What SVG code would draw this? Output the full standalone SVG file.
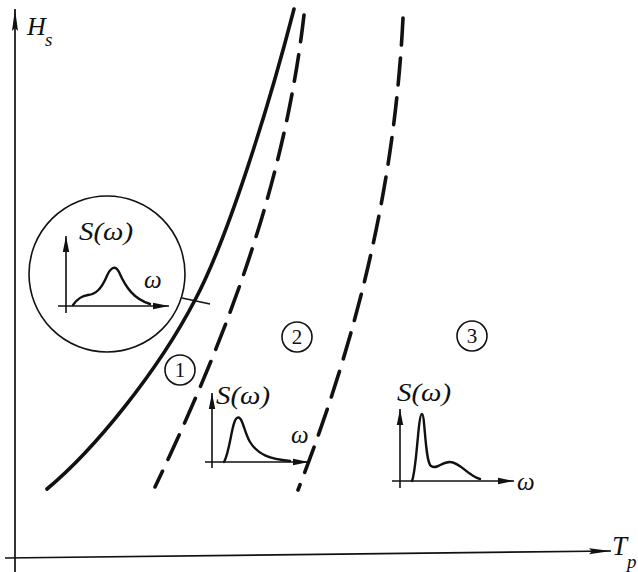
<svg xmlns="http://www.w3.org/2000/svg" width="638" height="572" viewBox="0 0 638 572">
<style>
.ax{stroke:#111;stroke-width:1.7;fill:none}
.cv{stroke:#111;stroke-width:3.6;fill:none;stroke-linecap:round}
.ds{stroke:#111;stroke-width:3.6;fill:none;stroke-dasharray:27 13;stroke-linecap:round}
.sp{stroke:#111;stroke-width:2.4;fill:none;stroke-linecap:round}
.th{stroke:#111;stroke-width:1.6;fill:none}
.t{font-family:"Liberation Serif",serif;font-style:italic;fill:#111}
.n{font-family:"Liberation Serif",serif;fill:#111;font-size:21px;text-anchor:middle}
</style>
<defs>
<marker id="ah" viewBox="0 0 22 8" refX="22" refY="4" markerWidth="22" markerHeight="8" markerUnits="userSpaceOnUse" orient="auto"><path d="M0,1 L22,4 L0,7 L3,4 Z" fill="#111"/></marker>
<marker id="as" viewBox="0 0 16 8" refX="16" refY="4" markerWidth="16" markerHeight="8" markerUnits="userSpaceOnUse" orient="auto"><path d="M0,0.8 L16,4 L0,7.2 Z" fill="#111"/></marker>
</defs>
<g id="axes">
<line class="ax" x1="15" y1="572" x2="15" y2="9" marker-end="url(#ah)"/>
<line class="ax" x1="5" y1="558" x2="611" y2="551" marker-end="url(#ah)"/>
<text class="t" x="27" y="35" font-size="26">H</text>
<text class="t" x="45" y="46" font-size="19">s</text>
<text class="t" x="612" y="555" font-size="27">T</text>
<text class="t" x="627" y="568" font-size="19">p</text>
</g>
<g id="connectors">
<path class="cv" d="M47,489 C95,449 158,371 195,300 C228,238 269,106 294,9"/>
<path class="ds" d="M304,15 C285,180 230,330 155,487"/>
<path class="ds" d="M403,18 C395,180 360,330 298,490"/>
<line class="th" x1="182" y1="298" x2="210" y2="304"/>
</g>
<g id="zoom-circle">
<circle cx="107" cy="274" r="78" class="th"/>
<line class="th" x1="66" y1="313" x2="66" y2="236" marker-end="url(#as)"/>
<line class="th" x1="58" y1="306" x2="169" y2="306" marker-end="url(#as)"/>
<path class="sp" d="M73,305 C78,298 82,296 88,295 C96,294 101,289 106,278 C110,268 115,264 119,272 C126,288 134,299 150,304"/>
<text class="t" x="79" y="240" font-size="25" textLength="54" lengthAdjust="spacingAndGlyphs">S(ω)</text>
<text class="t" x="144" y="288" font-size="25">ω</text>
</g>
<g id="region1"><circle cx="180" cy="370" r="15" class="th"/><text class="n" x="180" y="377">1</text></g>
<g id="region2"><circle cx="297" cy="337" r="15" class="th"/><text class="n" x="297" y="344">2</text></g>
<g id="region3"><circle cx="472" cy="336" r="15" class="th"/><text class="n" x="472" y="343">3</text></g>
<g id="spectrum2">
<line class="th" x1="212" y1="468" x2="212" y2="393" marker-end="url(#as)"/>
<line class="th" x1="205" y1="462" x2="309" y2="462" marker-end="url(#as)"/>
<path class="sp" d="M224,462 C230,452 232,420 237,418 C242,414 244,432 250,442 C258,455 270,459 290,461"/>
<text class="t" x="216" y="404" font-size="25" textLength="54" lengthAdjust="spacingAndGlyphs">S(ω)</text>
<text class="t" x="291" y="443" font-size="25">ω</text>
</g>
<g id="spectrum3">
<line class="th" x1="400" y1="488" x2="400" y2="409" marker-end="url(#as)"/>
<line class="th" x1="392" y1="481" x2="514" y2="481" marker-end="url(#as)"/>
<path class="sp" d="M412,481 C417,468 418,414 422,414 C425,414 425,462 431,466 C437,470 441,462 450,462 C460,462 468,476 480,479"/>
<text class="t" x="397" y="401" font-size="25" textLength="54" lengthAdjust="spacingAndGlyphs">S(ω)</text>
<text class="t" x="517" y="490" font-size="25">ω</text>
</g>
</svg>
